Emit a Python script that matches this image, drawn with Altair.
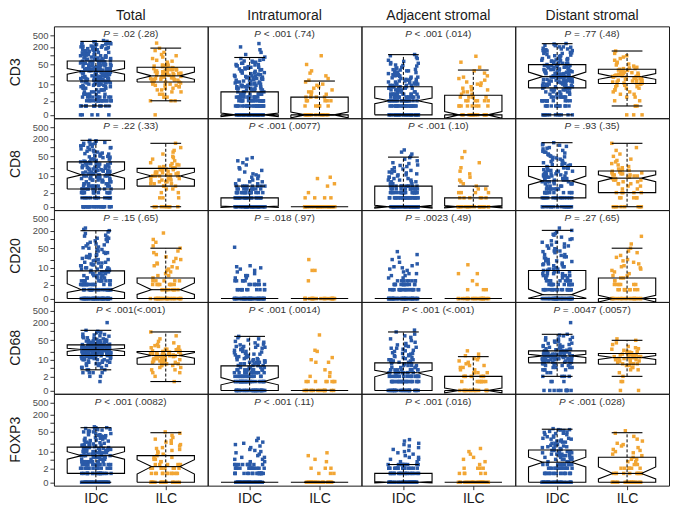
import math
import altair as alt
import pandas as pd

FONT = "Liberation Sans"
BLUE = "#2a5aa8"
ORANGE = "#f2a634"

markers = ["CD3", "CD8", "CD20", "CD68", "FOXP3"]
regions = ["Total", "Intratumoral", "Adjacent stromal", "Distant stromal"]
groups = ["IDC", "ILC"]

# p-value annotations (text after the italic "P"), marker-major, region inner
p_texts = [
    "= .02 (.28)", "< .001 (.74)", "< .001 (.014)", "= .77 (.48)",
    "= .22 (.33)", "< .001 (.0077)", "< .001 (.10)", "= .93 (.35)",
    "= .15 (.65)", "= .018 (.97)", "= .0023 (.49)", "= .27 (.65)",
    "< .001(<.001)", "< .001 (.0014)", "< .001 (<.001)", "= .0047 (.0057)",
    "< .001 (.0082)", "< .001 (.11)", "< .001 (.016)", "< .001 (.028)",
]

# box statistics (lower whisker, q1, median, q3, upper whisker, notch low/high)
IDC_lo  = [1, 0, 0, 0,   1, 0, 0, 0,   0, 0, 0, 0,   4, 0, 0, 2,   0, 0, 0, 0]
IDC_q1  = [13, 0, 0, 7.2,   3, 0, 0, 1,   0, 0, 0, 0,   14.3, 0, 0, 7.6,   1, 0, 0, 0]
IDC_med = [29, 0, 2, 18.8,   11, 0, 0, 6.5,   1, 0, 0, 0.35,   23.3, 1, 3, 13.8,   7, 0, 0, 3.8]
IDC_q3  = [66, 5, 8, 49.5,   32, 1, 4, 22,   7.7, 0, 0, 8,   34, 5.8, 7.6, 21,   14.6, 0, 1, 11.5]
IDC_hi  = [308, 87, 109, 258,   177, 4, 47, 147,   199, 0, 0, 204,   108, 67, 95, 79,   70, 0, 3, 62]
IDC_nlo = [23, -0.15, 1.4, 13.1,   8.3, -0.05, -0.12, 4.5,   0.6, 0, 0, 0.03,   20, 0.55, 1.9, 12,   5.1, 0, -0.05, 2.3]
IDC_nhi = [36, 0.15, 2.7, 27.4,   16.7, 0.05, 0.12, 10,   2.2, 0, 0, 1.1,   26, 1.75, 3.85, 15.8,   9.9, 0, 0.05, 6.1]

ILC_lo  = [2, 0, 0, 1,   0, 0, 0, 0,   0, 0, 0, 0,   1, 0, 0, 2,   0, 0, 0, 0]
ILC_q1  = [12, 0, 0, 10.5,   4, 0, 0, 2,   0, 0, 0, 0,   6.7, 0, 0, 6.7,   0, 0, 0, 0]
ILC_med = [20, 0, 0, 18.8,   10, 0, 0, 8.3,   1, 0, 0, 0,   14.3, 0, 0, 12,   2.4, 0, 0, 1]
ILC_q3  = [40, 3, 3.6, 34,   19, 0, 1, 15.3,   4, 0, 0, 4,   20, 0, 2, 16.8,   7, 0, 0, 6.1]
ILC_hi  = [182, 13, 32, 145,   140, 0, 4, 140,   50, 0, 0, 50,   95, 0, 13, 49,   47, 0, 0, 47]
ILC_nlo = [15, -0.25, -0.3, 15,   7.3, 0, -0.1, 6.1,   0.38, 0, 0, -0.3,   11.4, 0, -0.2, 10.2,   0.9, 0, 0, 0.3]
ILC_nhi = [27.4, 0.25, 0.3, 24,   13.8, 0, 0.1, 11,   2.4, 0, 0, 0.3,   18.3, 0, 0.2, 14.2,   4.8, 0, 0, 2.3]

# individual observations, per marker and group: [Total, Intratumoral, Adjacent, Distant]
CD3_IDC = [
    [0]*5 + [1]*14 + [2]*16 + [3]*10 + [4]*8 + [5,5,5,6,6,6,7,7,7,8,8,8,9,9,9,10,10,10,11,11,11,12,12,12,13,13,13,14,14,15,15,16,16,17,17,18,18,19,19,20,20,21,21,22,22,23,23,24,25,26,27,28,29,30,31,32,33,34,35,36,37,38,39,40,42,44,46,48,50,52,54,56,58,60,62,65,68,70,73,76,80,84,88,92,96,100,105,110,115,120,125,130,140,150,160,170,180,190,200,210,220,240,260,280,300,330,6,8,10,12,14,16,18,20,22,24,26,28,30,33,36,40,45,50,55,60,65,70,75,80,90,100,110,120,140,160,180,200,250,300,25,27,30,35,45,55,85,130,170,230,3,4,5,6,7,8,9,10,11,12,13,14,15,16,17,18,19,20,21,22,23,24,26,28,30,32,34,36,38,40,43,46,49,52,56,60,64,68,72,78,84,90,100,110,125,140,155,175,195,215,235,255,275,310],
    [0]*30 + [1]*25 + [2]*18 + [3]*14 + [4]*10 + [5,5,5,6,6,6,7,7,7,8,8,8,9,9,10,10,11,11,12,12,13,14,15,16,17,18,19,20,21,22,24,26,28,30,32,35,38,40,45,50,55,60,65,70,80,90,110,130,160,200,260,5,6,7,8,9,10,12,14,16,18,20,23,26,30,35,40,45,50,60,75,5,6,7,8,9,10,11,13,15,17,19,22,25,29,33,37,42,48,55,66],
    [0]*30 + [1]*25 + [2]*20 + [3]*15 + [4]*12 + [5,5,5,6,6,6,7,7,7,8,8,8,9,9,10,10,11,11,12,12,13,14,15,16,17,18,19,20,21,22,24,26,28,30,32,34,36,40,44,48,52,58,64,70,80,90,100,110,5,6,7,8,9,10,12,14,16,20,25,30,5,6,7,8,9,10,11,13,15,18,22,27,33,38,46,55],
    [0]*12 + [1]*12 + [2]*12 + [3]*8 + [4,4,4,5,5,5,6,6,6,7,7,7,8,8,8,9,9,9,10,10,10,11,11,12,12,13,13,14,14,15,15,16,16,17,17,18,18,19,19,20,20,21,22,23,24,25,26,27,28,29,30,32,34,36,38,40,42,44,46,48,50,53,56,60,64,68,72,76,80,85,90,95,100,110,120,130,140,150,160,170,180,200,220,240,260,5,7,9,11,13,15,17,20,23,26,30,35,40,45,50,60,70,80,100,120,150,200,12,18,24,33,45,4,5,6,7,8,9,10,11,12,13,14,15,16,17,18,19,20,22,24,26,28,30,33,36,39,42,46,50,55,60,66,72,80,90,105,125,145,170,195,225,250],
]
CD3_ILC = [
    [0] + [2,2,2,3,3,3,4,4,5,5,6,6,7,7,8,8,9,9,10,10,11,11,12,12,13,13,14,14,15,15,16,16,17,17,18,18,19,19,20,20,21,21,22,22,23,23,24,25,26,27,28,29,30,31,32,33,34,35,36,38,40,42,44,46,48,50,55,60,65,70,80,90,100,110,130,150,180,270,9,12,15,18,21,24,28,33,39,47],
    [0]*15 + [1]*6 + [2]*5 + [3]*4 + [4,4,5,5,6,7,8,9,10,12,14,16,20,25,30,50,100],
    [0]*15 + [1]*8 + [2]*6 + [3]*5 + [4,4,5,5,6,6,7,8,9,10,11,12,14,16,18,20,25,30,40,60,96],
    [0]*3 + [1]*3 + [2,2,3,3,4,4,5,5,6,6,7,7,8,8,9,9,10,10,11,11,12,12,13,13,14,14,15,15,16,16,17,17,18,18,19,19,20,20,21,21,22,22,23,24,25,26,27,28,29,30,32,34,36,38,40,44,48,52,56,60,70,80,90,100,120,145,11,14,17,20,23,27,31,36],
]
CD8_IDC = [
    [0]*25 + [1]*15 + [2]*15 + [3]*12 + [4]*8 + [5,5,5,6,6,6,7,7,7,8,8,8,9,9,9,10,10,10,11,11,11,12,12,13,13,14,14,15,15,16,16,17,18,19,20,21,22,23,24,25,26,27,28,29,30,32,34,36,38,40,42,45,48,51,55,60,65,70,75,80,90,100,110,120,130,140,150,165,177,5,6,7,8,10,12,14,16,18,20,24,28,33,40,50,60,80,100,130,160,4,5,6,7,8,9,10,11,12,13,14,15,17,19,21,23,26,29,32,36,41,47,54,62,72,85,98,115,140,170],
    [0]*40 + [1]*25 + [2]*15 + [3]*10 + [4]*8 + [5,5,6,6,7,7,8,9,10,11,12,14,16,18,20,25,30,35,40,45],
    [0]*40 + [1]*25 + [2]*18 + [3]*12 + [4]*10 + [5,5,6,6,7,7,8,8,9,10,11,12,13,14,15,16,18,20,22,25,28,30,35,40,45,50,60,70,83,5,6,7,9,11,13,17,24],
    [0]*20 + [1]*14 + [2]*12 + [3]*8 + [4,4,5,5,5,6,6,6,7,7,7,8,8,9,9,10,10,11,11,12,12,13,14,15,16,17,18,19,20,21,22,24,26,28,30,33,36,40,44,48,52,56,60,65,70,80,90,100,110,120,135,147,4,5,6,8,10,12,15,20,25,35,50,70,4,5,6,7,8,9,10,12,14,16,19,22,26,31,38,46,58,75,95,125],
]
CD8_ILC = [
    [0]*10 + [1]*3 + [2,2,3,3,4,4,5,5,5,6,6,6,7,7,8,8,9,9,10,10,10,11,11,12,12,13,13,14,15,16,17,18,19,20,21,22,24,26,28,30,35,40,45,50,60,70,80,100,140,4,6,8,10,12,14,17,20,25],
    [0]*25 + [1]*4 + [2,4,5,8,9],
    [0]*20 + [1]*6 + [2]*4 + [3]*2 + [4,5,6,7,9,12,15,20,30,45,73],
    [0]*10 + [1]*5 + [2]*5 + [3,3,4,4,5,5,6,6,7,7,8,8,9,9,10,10,11,11,12,12,13,14,15,16,17,18,20,22,25,28,32,36,40,50,60,80,100,140,5,7,9,11,13,16],
]
CD20_IDC = [
    [0]*50 + [1]*25 + [2]*18 + [3]*12 + [4,4,4,5,5,5,6,6,6,7,7,8,8,9,9,10,10,11,12,13,14,15,16,18,20,22,24,26,28,30,33,36,40,45,50,55,60,70,80,90,100,110,120,140,160,180,200,220,245,4,5,6,7,8,10,12,15,20,30,45,70,110,4,5,6,7,8,9,11,13,16,19,23,28,35,42,52,65,85,130],
    [0]*50 + [1]*12 + [2]*8 + [3]*6 + [4,4,5,5,6,7,8,9,10,11,12,54],
    [0]*50 + [1]*20 + [2]*14 + [3]*8 + [4,4,5,5,6,6,7,8,9,10,11,12,14,16,20,24,30,38],
    [0]*40 + [1]*20 + [2]*14 + [3]*10 + [4,4,4,5,5,5,6,6,7,7,8,8,9,9,10,11,12,13,14,15,16,18,20,22,25,28,30,35,40,45,50,55,60,70,80,90,100,120,140,160,180,204,245,4,5,6,8,10,13,17,25,40,65,4,5,6,7,9,11,14,18,23,30,38,48,60,80,105,150],
]
CD20_ILC = [
    [0]*25 + [1]*10 + [2]*8 + [3]*5 + [4,5,5,6,7,8,9,10,11,12,14,15,17,20,22,25,30,35,40,50,60,80,100,166],
    [0]*25 + [3,8,8,20],
    [0]*25 + [1,1,1,2,3,6,6,13],
    [0]*20 + [1]*10 + [2]*6 + [3,3,4,4,5,5,6,7,8,9,10,11,12,14,16,18,20,24,28,35,40,50,70,128],
]
CD68_IDC = [
    [1,2,2,3,3,3,4,4,5,5,6,6,7,7,8,8,9,9,10,10,10,11,11,11,12,12,12,13,13,13,14,14,14,14,15,15,15,15,16,16,16,16,17,17,17,17,18,18,18,18,19,19,19,19,20,20,20,20,21,21,21,21,22,22,22,22,23,23,23,23,24,24,24,24,25,25,25,25,26,26,26,27,27,27,28,28,28,29,29,29,30,30,30,31,31,32,32,33,33,34,34,35,35,36,36,38,38,40,40,42,42,44,46,48,50,52,55,58,60,65,70,75,80,90,100,108,198,5,7,9,11,13,15,16,17,18,19,20,21,22,23,24,25,26,27,28,30,32,34,37,40,44,48,53,60,68,78,90,3,4,6,8,10,12,14,16,18,20,22,24,26,29,32,36,41,47],
    [0]*30 + [1]*25 + [2]*18 + [3]*12 + [4]*10 + [5,5,5,6,6,6,7,7,8,8,9,9,10,10,11,12,13,14,15,16,17,18,20,22,24,26,28,30,33,36,40,45,50,55,60,67,5,6,7,8,10,12,15,20,25,30,5,6,7,8,9,11,13,16,19,23,28,34,42],
    [0]*25 + [1]*22 + [2]*18 + [3]*12 + [4]*10 + [5,5,5,6,6,6,7,7,7,8,8,9,9,10,10,11,12,13,14,15,16,17,18,20,22,24,26,28,30,34,38,42,48,55,62,70,80,95,110,5,6,7,8,9,10,12,14,17,21,26,32],
    [0]*10 + [1]*3 + [2]*4 + [3,3,4,4,4,5,5,5,6,6,6,7,7,7,8,8,8,8,9,9,9,9,10,10,10,10,11,11,11,11,12,12,12,12,13,13,13,13,14,14,14,14,15,15,15,15,16,16,16,17,17,17,18,18,18,19,19,20,20,21,21,22,23,24,25,26,28,30,32,35,38,42,46,50,55,60,70,79,198,4,5,6,7,8,9,10,11,12,13,14,15,16,17,18,20,22,24,27,30,34,39,45,52,62,74],
]
CD68_ILC = [
    [1,2,3,3,4,4,5,5,6,6,7,7,7,8,8,8,9,9,9,10,10,10,11,11,11,12,12,12,13,13,13,14,14,14,15,15,15,16,16,16,17,17,17,18,18,19,19,20,20,21,22,23,24,25,27,29,32,35,40,45,55,70,95,6,8,10,12,14,16,18,20,24,30],
    [0]*15 + [1]*8 + [2,2,3,4,8,8,10,12,20,22,75],
    [0]*15 + [1]*8 + [2]*7 + [3]*4 + [4,4,5,5,6,6,7,8,9,10,11,12,14,16,21],
    [0]*2 + [1]*2 + [2,3,4,4,5,5,6,6,7,7,8,8,9,9,10,10,10,11,11,11,12,12,12,13,13,13,14,14,15,15,16,16,17,18,19,20,22,24,27,30,35,40,49,55,7,9,11,13,15,17,20,25],
]
FOXP3_IDC = [
    [0]*40 + [1]*20 + [2]*15 + [3]*12 + [4]*10 + [5,5,5,6,6,6,7,7,7,8,8,8,9,9,9,10,10,10,11,11,12,12,13,13,14,14,15,15,16,17,18,19,20,21,22,24,26,28,30,32,34,36,38,40,43,46,50,54,58,62,66,70,75,5,6,7,8,9,10,12,14,17,20,25,30,40,50,60,70,4,5,6,7,8,9,10,11,12,13,15,17,19,22,26,31,37,44,53,64],
    [0]*50 + [1]*20 + [2]*15 + [3]*10 + [4,4,5,5,6,6,7,8,9,10,11,12,14,16,18,20,22,25,30],
    [0]*45 + [1]*20 + [2]*15 + [3]*10 + [4,4,5,5,6,6,7,8,9,10,11,12,14,16,18,20,24,27],
    [0]*30 + [1]*18 + [2]*15 + [3]*10 + [4,4,5,5,5,6,6,6,7,7,8,8,9,9,10,10,11,12,13,14,15,16,18,20,22,24,26,28,30,33,36,40,44,48,52,56,60,65,5,7,9,12,16,22,30,45,60,4,5,6,7,8,9,10,11,13,15,17,20,24,28,34,41,50,58],
]
FOXP3_ILC = [
    [0]*20 + [1]*12 + [2]*8 + [3]*5 + [4,4,5,5,6,6,7,8,9,10,11,12,13,14,16,18,20,22,25,28,32,38,45,50],
    [0]*25 + [1,1,1,2,2,2,4,5,7,9],
    [0]*25 + [1]*5 + [2]*4 + [3,4,5,6,8,10,13],
    [0]*20 + [1]*10 + [2]*6 + [3,3,4,4,5,5,6,7,8,9,10,11,12,14,16,18,20,24,28,35,45,55],
]

points = {
    ("CD3", "IDC"): CD3_IDC, ("CD3", "ILC"): CD3_ILC,
    ("CD8", "IDC"): CD8_IDC, ("CD8", "ILC"): CD8_ILC,
    ("CD20", "IDC"): CD20_IDC, ("CD20", "ILC"): CD20_ILC,
    ("CD68", "IDC"): CD68_IDC, ("CD68", "ILC"): CD68_ILC,
    ("FOXP3", "IDC"): FOXP3_IDC, ("FOXP3", "ILC"): FOXP3_ILC,
}
stats = {
    "IDC": (IDC_lo, IDC_q1, IDC_med, IDC_q3, IDC_hi, IDC_nlo, IDC_nhi),
    "ILC": (ILC_lo, ILC_q1, ILC_med, ILC_q3, ILC_hi, ILC_nlo, ILC_nhi),
}

# layout constants (data units on the x axis)
PANEL_W = 154
PANEL_H = 92
XDOM = [0.4, 2.6]
UNIT_PER_PX = (XDOM[1] - XDOM[0]) / PANEL_W
HALF_BOX = 0.41
NOTCH_IN = HALF_BOX * 0.5
CAP = 0.22
TXT_SIZE = 10
CW = {".": 0.278, " ": 0.278, "=": 0.584, "<": 0.584, "(": 0.333, ")": 0.333, "P": 0.667}


def text_width(s):
    return sum(CW.get(c, 0.556) for c in s) * TXT_SIZE


rows = []
for mi, m in enumerate(markers):
    for ri, r in enumerate(regions):
        idx = mi * 4 + ri
        for gi, g in enumerate(groups):
            gx = gi + 1
            lo, q1, med, q3, hi, nlo, nhi = (a[idx] for a in stats[g])
            for k, v in enumerate(points[(m, g)][ri]):
                rows.append(dict(marker=m, region=r, grp=g, kind="pt", gx=gx, v=v, k=k, s=idx * 7.31 + gi * 3.7))
            rows.append(dict(marker=m, region=r, grp=g, kind="wh", gx=gx, lo=lo, hi=hi))
            for cy in (lo, hi):
                rows.append(dict(marker=m, region=r, grp=g, kind="cap", cx1=gx - CAP, cx2=gx + CAP, cy=cy))
            xl, xr = gx - HALF_BOX, gx + HALF_BOX
            outline = [(xl, q1), (xl, nlo), (xl + NOTCH_IN, med), (xl, nhi), (xl, q3),
                       (xr, q3), (xr, nhi), (xr - NOTCH_IN, med), (xr, nlo), (xr, q1), (xl, q1)]
            for j, (bx, by) in enumerate(outline):
                rows.append(dict(marker=m, region=r, grp=g, kind="box", bid=f"{m}|{r}|{g}", o=j, bx=bx, by=by))
            rows.append(dict(marker=m, region=r, grp=g, kind="med", mx1=xl + NOTCH_IN, mx2=xr - NOTCH_IN, my=med))
        rest = p_texts[idx]
        w = text_width("P " + rest)
        start = -w / 2
        rows.append(dict(marker=m, region=r, kind="txt",
                         tp=1.5 + start * UNIT_PER_PX,
                         tr=1.5 + (start + (CW["P"] + CW[" "]) * TXT_SIZE) * UNIT_PER_PX,
                         rest=rest))
        if mi == 0:
            rows.append(dict(marker=m, region=r, kind="ctitle", label=r))
        if ri == 0:
            rows.append(dict(marker=m, region=r, kind="rtitle", label=m))

df = pd.DataFrame(rows)

yscale = alt.Scale(type="symlog", constant=1, domain=[-0.3, 1000], nice=False, zero=False)
yaxis = alt.Axis(values=[0, 2, 5, 10, 20, 50, 100, 200, 500], title=None, grid=False, domain=False,
                 labelFontSize=9.5, labelColor="#4d4d4d", labelFont=FONT, tickColor="#333333",
                 tickSize=4, labelPadding=2, format="d")
xscale = alt.Scale(domain=XDOM, nice=False, zero=False)
xaxis = alt.Axis(values=[1, 2], labelExpr="datum.value == 1 ? 'IDC' : 'ILC'", title=None, grid=False,
                 domain=False, labelFontSize=14, labelColor="#1a1a1a", labelFont=FONT,
                 tickColor="#333333", tickSize=4, labelPadding=2)


def X(f):
    return alt.X(f, type="quantitative", scale=xscale, axis=xaxis)


def Y(f):
    return alt.Y(f, type="quantitative", scale=yscale, axis=yaxis)


jit = ("datum.gx + ((abs(sin(datum.k * 12.9898 + datum.s * 78.233) * 43758.5453) % 1) - 0.5) * 0.44")

pts = alt.Chart().transform_filter(alt.datum.kind == "pt").transform_calculate(xj=jit).mark_point(
    shape="square", filled=True, size=12, opacity=1
).encode(
    x=X("xj"), y=Y("v"),
    color=alt.Color("grp:N", scale=alt.Scale(domain=groups, range=[BLUE, ORANGE]), legend=None),
)

wh = alt.Chart().transform_filter(alt.datum.kind == "wh").mark_rule(
    color="black", strokeWidth=1, strokeDash=[3, 2]
).encode(x=X("gx"), y=Y("lo"), y2="hi")

caps = alt.Chart().transform_filter(alt.datum.kind == "cap").mark_rule(
    color="black", strokeWidth=1.1
).encode(x=X("cx1"), x2="cx2", y=Y("cy"))

box = alt.Chart().transform_filter(alt.datum.kind == "box").mark_line(
    color="black", strokeWidth=1.1
).encode(x=X("bx"), y=Y("by"), order="o:Q", detail="bid:N")

medl = alt.Chart().transform_filter(alt.datum.kind == "med").mark_rule(
    color="black", strokeWidth=1.1
).encode(x=X("mx1"), x2="mx2", y=Y("my"))

txt_p = alt.Chart().transform_filter(alt.datum.kind == "txt").mark_text(
    text="P", align="left", baseline="middle", fontSize=TXT_SIZE, fontStyle="italic", font=FONT, color="#333333"
).encode(x=X("tp"), y=alt.value(8))

txt_r = alt.Chart().transform_filter(alt.datum.kind == "txt").mark_text(
    align="left", baseline="middle", fontSize=TXT_SIZE, font=FONT, color="#333333"
).encode(x=X("tr"), y=alt.value(8), text="rest:N")

ctitle = alt.Chart().transform_filter(alt.datum.kind == "ctitle").mark_text(
    align="center", baseline="middle", fontSize=14, font=FONT, color="#1a1a1a"
).encode(x=alt.value(PANEL_W / 2), y=alt.value(-10), text="label:N")

rtitle = alt.Chart().transform_filter(alt.datum.kind == "rtitle").mark_text(
    align="center", baseline="middle", fontSize=14, font=FONT, color="#1a1a1a", angle=270
).encode(x=alt.value(-38), y=alt.value(PANEL_H / 2), text="label:N")

layered = alt.layer(pts, wh, caps, box, medl, txt_p, txt_r, ctitle, rtitle, data=df).properties(
    width=PANEL_W, height=PANEL_H
)

chart = layered.facet(
    row=alt.Row("marker:N", sort=markers, title=None, header=alt.Header(labels=False, title=None)),
    column=alt.Column("region:N", sort=regions, title=None, header=alt.Header(labels=False, title=None)),
    spacing=0,
    bounds="flush",
).properties(
    padding={"left": 0, "top": 0, "right": 0, "bottom": 0}
).configure_view(
    stroke="#1a1a1a", strokeWidth=1
).configure_facet(spacing=0)

chart.save("out.html", embed_options={"renderer": "svg", "actions": False})
